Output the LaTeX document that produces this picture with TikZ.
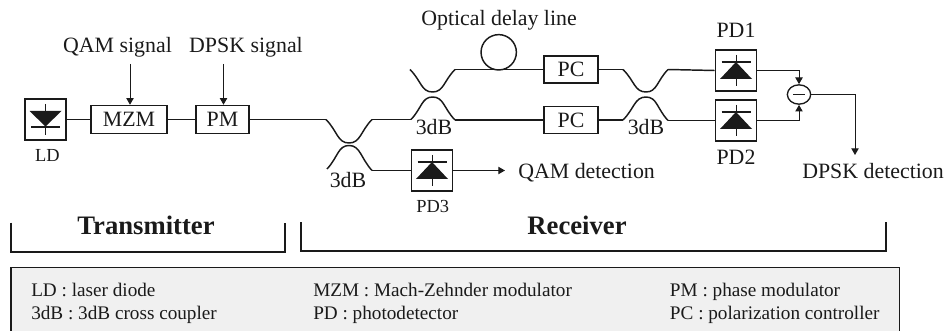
\documentclass[tikz,border=0pt]{standalone}
\usepackage{fontspec}
\setmainfont{Liberation Serif}
\usetikzlibrary{arrows.meta,shapes.geometric,calc}
\definecolor{ink}{HTML}{1A1A1A}
\definecolor{legendfill}{HTML}{F0F0F0}
\tikzset{
  x=0.75pt,y=-0.75pt,
  fibre/.style={line width=1.1pt,draw=ink},
  wire/.style={line width=0.75pt,draw=ink},
  signal/.style={line width=0.75pt,draw=ink,-{Triangle[width=5.5pt,length=5pt]}},
  boxed/.style={draw=ink,line width=1.1pt,inner sep=0pt,font=\fontsize{16.4pt}{18pt}\selectfont,text=ink},
  pdbox/.style={draw=ink,line width=1.1pt,inner sep=0pt,minimum width=31pt,minimum height=30.5pt},
  lab/.style={inner sep=0pt,anchor=base,font=\fontsize{16.4pt}{18pt}\selectfont,text=ink},
  smalllab/.style={inner sep=0pt,anchor=base,font=\fontsize{13.8pt}{16pt}\selectfont,text=ink},
  head/.style={inner sep=0pt,anchor=base,font=\fontsize{20pt}{22pt}\selectfont\bfseries,text=ink},
  legend/.style={inner sep=0pt,anchor=base west,font=\fontsize{14.4pt}{16pt}\selectfont,text=ink},
  bracket/.style={line width=0.9pt,draw=ink},
}
\newcommand{\couplerarc}[3]{%
  \draw[fibre,line join=round] (#1) .. controls ($(#1)!0.5!(#2)$) and ($(#2)!0.5!(#1|-#2)$) .. (#2)
     .. controls ($(#2)!0.5!(#3|-#2)$) and ($(#3)!0.5!(#2)$) .. (#3);}
\newcommand{\diodeup}[1]{%
  \fill[ink] ($(#1)+(0,-8.5)$) -- ($(#1)+(16,8.5)$) -- ($(#1)+(-16,8.5)$) -- cycle;
  \draw[wire] ($(#1)+(0,-15.5)$) -- ($(#1)+(0,15.5)$);
  \draw[line width=1pt,draw=ink] ($(#1)+(-14.5,-8.5)$) -- ($(#1)+(14.5,-8.5)$);}
\newcommand{\diodedown}[1]{%
  \fill[ink] ($(#1)+(0,7)$) -- ($(#1)+(16,-8.5)$) -- ($(#1)+(-16,-8.5)$) -- cycle;
  \draw[wire] ($(#1)+(0,-15.5)$) -- ($(#1)+(0,15.5)$);
  \draw[line width=1pt,draw=ink] ($(#1)+(-14.5,7.5)$) -- ($(#1)+(14.5,7.5)$);}
\begin{document}
\begin{tikzpicture}
\useasboundingbox (0,0) rectangle (944,331);
% boxes
\node[pdbox] (ld) at (45.5,119.5) {};
\node[boxed,minimum width=57pt,minimum height=21pt] (mzm) at (129,119.5) {MZM};
\node[boxed,minimum width=39.5pt,minimum height=21pt] (pm) at (222.5,119.5) {PM};
\node[pdbox] (pd3) at (432,170.5) {};
\node[boxed,minimum width=40.5pt,minimum height=20.5pt] (pca) at (571,69.5) {PC};
\node[boxed,minimum width=40.5pt,minimum height=20.5pt] (pcb) at (571,120) {PC};
\node[pdbox] (pd1) at (736,70.5) {};
\node[pdbox] (pd2) at (736,120.5) {};
\node[draw=ink,line width=1pt,ellipse,minimum width=17.5pt,minimum height=14.5pt,inner sep=0pt] (sub) at (799,94.5) {};
\draw[line width=0.6pt,draw=ink] ($(sub)+(-6,0)$) -- ($(sub)+(6,0)$);
\diodedown{ld}
\diodeup{pd3}
\diodeup{pd1}
\diodeup{pd2}
% labels
\node[lab] (qam) at (117.5,53) {QAM signal};
\node[lab] (dpsk) at (246,53) {DPSK signal};
\node[smalllab] (ldl) at (47.5,161.5) {LD};
\node[smalllab] (pd3l) at (432.7,213) {PD3};
\node[lab] (odl) at (499,26) {Optical delay line};
\node[lab] (pd1l) at (736,37.5) {PD1};
\node[lab] (pd2l) at (736,165) {PD2};
\node[lab] (c1) at (348,188) {3dB};
\node[lab] (c2) at (434,135) {3dB};
\node[lab] (c3) at (646,135) {3dB};
\node[lab,anchor=base west] (qamd) at (518,178.5) {QAM detection};
\node[lab,anchor=base west] (dpskd) at (802,179) {DPSK detection};
\node[head] (tx) at (146,234) {Transmitter};
\node[head] (rx) at (577,234) {Receiver};
% coordinates
\coordinate (a1) at (326,119.5);
\coordinate (a2) at (349,143);
\coordinate (a3) at (372,119.5);
\coordinate (b1) at (327,169);
\coordinate (b2) at (349,145.5);
\coordinate (b3) at (372,170.5);
\coordinate (d1) at (410,69.5);
\coordinate (d2) at (432.5,92);
\coordinate (d3) at (455,69.5);
\coordinate (e1) at (411,119.5);
\coordinate (e2) at (432.5,97);
\coordinate (e3) at (455,120);
\coordinate (f1) at (623,69.5);
\coordinate (f2) at (646,92);
\coordinate (f3) at (668,69.5);
\coordinate (g1) at (623,120);
\coordinate (g2) at (646,97);
\coordinate (g3) at (668,120.5);
% fibres
\draw[fibre] (ld) -- (mzm);
\draw[fibre] (mzm) -- (pm);
\draw[fibre] (pm.east) -- (a1);
\couplerarc{a1}{a2}{a3}
\couplerarc{b1}{b2}{b3}
\couplerarc{d1}{d2}{d3}
\couplerarc{e1}{e2}{e3}
\couplerarc{f1}{f2}{f3}
\couplerarc{g1}{g2}{g3}
\draw[fibre] (a3) -- (e1);
\draw[fibre] (b3) -- (pd3.west);
\draw[fibre] (d3) -- (pca.west);
\draw[fibre] (e3) -- (pcb.west);
\draw[fibre] (pca.east) -- (f1);
\draw[fibre] (pcb.east) -- (g1);
\draw[fibre] (f3) -- (pd1.west);
\draw[fibre] (g3) -- (pd2.west);
\node[draw=ink,line width=1.1pt,circle,minimum size=26.5pt,inner sep=0pt] (loop) at (498.7,52.3) {};
% signals
\coordinate (qs) at (130,64);
\coordinate (ds) at (223.5,64);
\draw[signal] (qs) -- (qs|-mzm.north);
\draw[signal] (ds) -- (ds|-pm.north);
\draw[signal] (pd3.east) -- (505,170.5);
\draw[signal] (pd1.east) -| (sub.north);
\draw[signal] (pd2.east) -| (sub.south);
\coordinate (out) at (855,155);
\draw[signal] (sub.east) -| (out);
% brackets
\draw[bracket] (11,222.5) -- (11,252) -- (285,252) -- (285,222.5);
\draw[bracket] (301,222) -- (301,251) -- (886,251) -- (886,222);
% legend
\fill[legendfill] (11,267.5) rectangle (899.7,331);
\draw[line width=1pt,draw=ink] (11,331) -- (11,267.5) -- (899.7,267.5) -- (899.7,331);
\node[legend] at (31,296) {LD : laser diode};
\node[legend] at (31,319) {3dB : 3dB cross coupler};
\node[legend] at (313,296) {MZM : Mach-Zehnder modulator};
\node[legend] at (313,319) {PD : photodetector};
\node[legend] at (669.7,296) {PM : phase modulator};
\node[legend] at (669.7,319) {PC : polarization controller};
\end{tikzpicture}
\end{document}
